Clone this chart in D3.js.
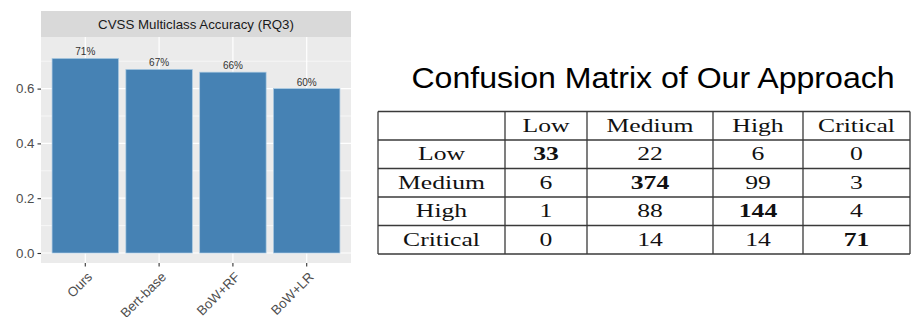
<!DOCTYPE html>
<meta charset="utf-8">
<style>
body { margin: 0; background: #fff; }
svg text { font-family: "Liberation Sans", Arial, sans-serif; }
.cell { font-family: "Liberation Serif", "Times New Roman", serif; }
</style>
<body>
<div id="chart"></div>
<script src="https://d3js.org/d3.v7.min.js"></script>
<script>
// bar chart data
var methods = ["Ours", "Bert-base", "BoW+RF", "BoW+LR"];
var accuracy = [0.71, 0.67, 0.66, 0.60];
var yTicks = [0, 0.2, 0.4, 0.6];
var yMinor = [0.1, 0.3, 0.5, 0.7];

// confusion matrix data
var classes = ["Low", "Medium", "High", "Critical"];
var matrix = [
  [33, 22, 6, 0],
  [6, 374, 99, 3],
  [1, 88, 144, 4],
  [0, 14, 14, 71]
];

var W = 911, H = 317;
var svg = d3.select("#chart").append("svg")
    .attr("width", W)
    .attr("height", H);

// ---- left: ggplot-like bar chart ----
var px0 = 41, px1 = 351, py0 = 37, py1 = 263;

var x = d3.scaleBand()
    .domain(methods)
    .range([px0, px1])
    .paddingInner(0.1)
    .paddingOuter(0.15);

var y = d3.scaleLinear()
    .domain([-0.0365, 0.7883])
    .range([py1, py0]);

// strip
svg.append("rect")
    .attr("x", px0).attr("y", 11)
    .attr("width", px1 - px0).attr("height", py0 - 11)
    .attr("fill", "#d9d9d9");
svg.append("text")
    .attr("x", (px0 + px1) / 2).attr("y", 29)
    .attr("text-anchor", "middle")
    .attr("font-size", 13.3)
    .attr("fill", "#1a1a1a")
    .text("CVSS Multiclass Accuracy (RQ3)");

// panel
svg.append("rect")
    .attr("x", px0).attr("y", py0)
    .attr("width", px1 - px0).attr("height", py1 - py0)
    .attr("fill", "#ebebeb");

svg.append("g").selectAll("line")
  .data(yMinor)
  .enter().append("line")
    .attr("x1", px0).attr("x2", px1)
    .attr("y1", function(d) { return y(d); })
    .attr("y2", function(d) { return y(d); })
    .attr("stroke", "#fff").attr("stroke-width", 0.6);

svg.append("g").selectAll("line")
  .data(yTicks)
  .enter().append("line")
    .attr("x1", px0).attr("x2", px1)
    .attr("y1", function(d) { return y(d); })
    .attr("y2", function(d) { return y(d); })
    .attr("stroke", "#fff").attr("stroke-width", 1.2);

svg.append("g").selectAll("line")
  .data(methods)
  .enter().append("line")
    .attr("x1", function(d) { return x(d) + x.bandwidth() / 2; })
    .attr("x2", function(d) { return x(d) + x.bandwidth() / 2; })
    .attr("y1", py0).attr("y2", py1)
    .attr("stroke", "#fff").attr("stroke-width", 1.2);

// bars
svg.append("g").selectAll("rect")
  .data(accuracy)
  .enter().append("rect")
    .attr("x", function(d, i) { return x(methods[i]); })
    .attr("y", function(d) { return y(d); })
    .attr("width", x.bandwidth())
    .attr("height", function(d) { return y(0) - y(d); })
    .attr("fill", "#4682b4")
    .attr("stroke", "#a9c9e2")
    .attr("stroke-width", 0.7);

svg.append("g").selectAll("text")
  .data(accuracy)
  .enter().append("text")
    .attr("x", function(d, i) { return x(methods[i]) + x.bandwidth() / 2; })
    .attr("y", function(d) { return y(d) - 3; })
    .attr("text-anchor", "middle")
    .attr("font-size", 10)
    .attr("fill", "#333")
    .text(function(d) { return Math.round(d * 100) + "%"; });

// y axis
var yAxis = svg.append("g")
    .attr("transform", "translate(" + px0 + ",0)")
    .call(d3.axisLeft(y).tickValues(yTicks).tickSize(3.5).tickPadding(3)
      .tickFormat(d3.format(".1f")));
yAxis.select(".domain").remove();
yAxis.selectAll("line").attr("stroke", "#333").attr("stroke-width", 1.1);
yAxis.selectAll("text")
    .attr("font-size", 13.3)
    .attr("font-family", "Liberation Sans, Arial, sans-serif")
    .attr("fill", "#4d4d4d");

// x axis
var xAxis = svg.append("g")
    .attr("transform", "translate(0," + py1 + ")")
    .call(d3.axisBottom(x).tickSize(3.5).tickSizeOuter(0));
xAxis.select(".domain").remove();
xAxis.selectAll("line").attr("stroke", "#333").attr("stroke-width", 1.1);
xAxis.selectAll("text")
    .attr("font-size", 13.3)
    .attr("font-family", "Liberation Sans, Arial, sans-serif")
    .attr("fill", "#4d4d4d")
    .attr("text-anchor", "end")
    .attr("x", 0).attr("y", 0)
    .attr("dy", "0.72em")
    .attr("transform", "translate(1,8) rotate(-45)");

// ---- right: confusion matrix table ----
var colEdges = [378, 505, 587, 713, 803, 910];
var rowEdges = [111.5, 140, 168.5, 197, 225.5, 254];
var sx = 1.35;

svg.append("text")
    .attr("transform", "translate(653,88) scale(1.07,1)")
    .attr("text-anchor", "middle")
    .attr("font-size", 30)
    .attr("fill", "#000")
    .text("Confusion Matrix of Our Approach");

var tbl = svg.append("g");
tbl.selectAll("line.h")
  .data(rowEdges)
  .enter().append("line")
    .attr("x1", colEdges[0]).attr("x2", colEdges[colEdges.length - 1])
    .attr("y1", function(d) { return d; }).attr("y2", function(d) { return d; })
    .attr("stroke", "#3a3a3a").attr("stroke-width", 1.3);
tbl.selectAll("line.v")
  .data(colEdges)
  .enter().append("line")
    .attr("y1", rowEdges[0]).attr("y2", rowEdges[rowEdges.length - 1])
    .attr("x1", function(d) { return d; }).attr("x2", function(d) { return d; })
    .attr("stroke", "#3a3a3a").attr("stroke-width", 1.3);

function cx(c) { return (colEdges[c] + colEdges[c + 1]) / 2; }
function cy(r) { return (rowEdges[r] + rowEdges[r + 1]) / 2 + 6; }

function cellText(c, r, txt, bold) {
  tbl.append("text")
      .attr("class", "cell")
      .attr("transform", "translate(" + cx(c) + "," + cy(r) + ") scale(" + sx + ",1)")
      .attr("text-anchor", "middle")
      .attr("font-size", 19)
      .attr("font-weight", bold ? "bold" : "normal")
      .attr("fill", "#111")
      .text(txt);
}

classes.forEach(function(c, i) {
  cellText(i + 1, 0, c, false);
  cellText(0, i + 1, c, false);
});
matrix.forEach(function(row, r) {
  row.forEach(function(v, c) {
    cellText(c + 1, r + 1, v, r === c);
  });
});
</script>
</body>
